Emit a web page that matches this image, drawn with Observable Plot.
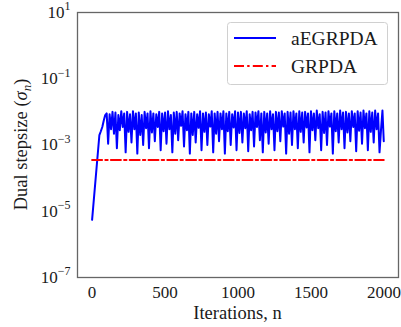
<!DOCTYPE html>
<html>
<head>
<meta charset="utf-8">
<script src="https://cdn.jsdelivr.net/npm/d3@7"></script>
<script src="https://cdn.jsdelivr.net/npm/@observablehq/plot@0.6"></script>
<style>
  html, body { margin: 0; padding: 0; background: white; }
  svg { display: block; }
</style>
</head>
<body>
<div id="chart"></div>
<script>
// ---- data ----
const xTicks = [0, 500, 1000, 1500, 2000];
const yTicks = [1e1, 1e-1, 1e-3, 1e-5, 1e-7];

// aEGRPDA: warm-up phase
const warmupN = [0, 50, 60, 70, 80, 90];
const warmupSigma = [5.5e-6, 2.0e-3, 2.6e-3, 3.5e-3, 5.5e-3, 8e-3];
// aEGRPDA: oscillating phase, n = 100, 110, ..., 1990 then final n = 1999
const oscSigma = [
  9e-3, 1.1e-3, 8.5e-3, 3e-3, 1.0e-2, 2.2e-3, 9.5e-3, 8e-4, 8e-3, 2.8e-3,
  1.05e-2, 3.5e-3, 9e-3, 6e-4, 1e-2, 2.5e-3, 8.5e-3, 1.2e-3, 1.05e-2, 3e-3,
  9e-3, 5.5e-4, 9.5e-3, 2e-3, 8e-3, 1e-3, 1e-2, 3.2e-3, 9e-3, 8e-4,
  1.05e-2, 2.4e-3, 9e-3, 1.3e-3, 8.5e-3, 3.5e-3, 1e-2, 7e-4, 9e-3, 2.6e-3,
  9.5e-3, 1.1e-3, 1.05e-2, 3e-3, 8e-3, 6e-4, 9.5e-3, 2.2e-3, 1e-2, 1.4e-3,
  9e-3, 3.8e-3, 1.05e-2, 9e-4, 8.5e-3, 2.8e-3, 1e-2, 5.5e-4, 9e-3, 2e-3,
  1e-2, 1.2e-3, 8.5e-3, 3.3e-3, 1.05e-2, 7e-4, 9e-3, 2.5e-3, 9.5e-3, 1e-3,
  8.5e-3, 3.6e-3, 1.05e-2, 6e-4, 9e-3, 2.2e-3, 1e-2, 1.3e-3, 9e-3, 3e-3,
  1.05e-2, 5.5e-4, 9e-3, 2.6e-3, 1e-2, 1e-3, 8.5e-3, 3.4e-3, 1.05e-2, 7e-4,
  9.5e-3, 2.3e-3, 1e-2, 1.2e-3, 9e-3, 3.2e-3, 1.05e-2, 6.5e-4, 8.5e-3, 2.8e-3,
  1e-2, 9e-4, 9.5e-3, 3.5e-3, 1.05e-2, 1.4e-3, 9e-3, 6e-4, 1e-2, 2.4e-3,
  9e-3, 1.1e-3, 1.05e-2, 3e-3, 8.5e-3, 7e-4, 1e-2, 2.6e-3, 9.5e-3, 1.3e-3,
  1.05e-2, 3.6e-3, 9e-3, 5.5e-4, 1e-2, 2.2e-3, 9.5e-3, 1e-3, 1.05e-2, 3e-3,
  9e-3, 8e-4, 1.05e-2, 2.5e-3, 9.5e-3, 1.2e-3, 1e-2, 3.4e-3, 9e-3, 6e-4,
  1.05e-2, 2.8e-3, 9e-3, 1.4e-3, 1.1e-2, 3.2e-3, 8.5e-3, 7e-4, 1e-2, 2.3e-3,
  9.5e-3, 1e-3, 1.05e-2, 3.6e-3, 9e-3, 5.5e-4, 1.05e-2, 2.6e-3, 9e-3, 1.2e-3,
  1.1e-2, 3e-3, 9.5e-3, 8e-4, 1e-2, 2.4e-3, 9e-3, 1.3e-3, 1.05e-2, 3.5e-3,
  9e-3, 6.5e-4, 1.05e-2, 2.7e-3, 9.5e-3, 1.1e-3, 1.1e-2, 3.2e-3, 9e-3, 7e-4,
  1.05e-2, 2.5e-3, 9.5e-3, 1.2e-3, 1.1e-2, 3e-3, 9e-3, 6e-4, 2.8e-3, 1.1e-2
];
const finalN = 1999;
const finalSigma = 1.3e-3;

// GRPDA: constant dual stepsize
const grpdaN = [0, 1999];
const grpdaSigma = [3.5e-4, 3.5e-4];

const seriesNames = ["aEGRPDA", "GRPDA"];
const seriesColors = ["#0000ff", "#ff0000"];

// ---- build tables ----
const oscN = d3.range(100, 2000, 10);
const aegrpda = [
  ...warmupN.map((n, i) => ({n, sigma: warmupSigma[i]})),
  ...oscN.map((n, i) => ({n, sigma: oscSigma[i]})),
  {n: finalN, sigma: finalSigma}
];
const grpda = grpdaN.map((n, i) => ({n, sigma: grpdaSigma[i]}));

const W = 401, H = 327;
const mL = 77, mR = 3, mT = 12, mB = 50;
const dashDot = "10,3.2,2.4,3.2";
const SERIF = "'Liberation Serif', 'Times New Roman', serif";
const INK = "#1a1a1a";

const chart = Plot.plot({
  width: W, height: H,
  marginLeft: mL, marginRight: mR, marginTop: mT, marginBottom: mB,
  style: {fontFamily: SERIF, fontSize: "17px", color: INK, background: "white"},
  x: {domain: [-100, 2100]},
  y: {type: "log", domain: [1e-7, 10]},
  marks: [
    Plot.axisX({ticks: xTicks, tickSize: 0, tickPadding: 8, tickFormat: d => String(d), label: null}),
    Plot.axisY({ticks: yTicks, tickSize: 0, tickPadding: 7, tickFormat: d => String(Math.round(Math.log10(d))), label: null}),
    Plot.line(aegrpda, {x: "n", y: "sigma", stroke: seriesColors[0], strokeWidth: 2, strokeLinejoin: "round"}),
    Plot.line(grpda, {x: "n", y: "sigma", stroke: seriesColors[1], strokeWidth: 2, strokeDasharray: dashDot}),
    Plot.frame({stroke: "#666", strokeWidth: 1.3})
  ]
});

const svg = d3.select(chart);

// superscript exponents on y tick labels
svg.selectAll('g[aria-label="y-axis tick label"] text').each(function() {
  const t = d3.select(this);
  const e = t.text();
  t.text(null);
  t.append("tspan").text("10");
  t.append("tspan").attr("dy", "-7.5").attr("font-size", "12px")
    .text(e.startsWith("-") ? "\u2212" + e.slice(1) : e);
});

function addText(parent) {
  return parent.append("text")
    .style("font-family", SERIF)
    .style("font-weight", "normal")
    .attr("fill", INK)
    .attr("stroke", "none");
}

// axis labels
addText(svg)
  .attr("x", mL + (W - mL - mR) / 2).attr("y", 319)
  .attr("text-anchor", "middle").style("font-size", "18.5px")
  .text("Iterations, n");

const yl = addText(svg)
  .attr("transform", `translate(27,${mT + (H - mT - mB) / 2}) rotate(-90)`)
  .attr("text-anchor", "middle").style("font-size", "18.5px");
yl.append("tspan").text("Dual stepsize (");
yl.append("tspan").attr("font-style", "italic").text("\u03c3");
yl.append("tspan").attr("font-style", "italic").attr("font-size", "13px").attr("dy", "4").text("n");
yl.append("tspan").attr("dy", "-4").text(")");

// legend
const lg = svg.append("g").attr("aria-label", "legend");
lg.append("rect").attr("x", 227.5).attr("y", 22.5).attr("width", 160).attr("height", 62)
  .attr("rx", 3).attr("fill", "white").attr("fill-opacity", 0.85).attr("stroke", "#d0d0d0");
seriesNames.forEach((name, i) => {
  const cy = 38 + i * 28;
  lg.append("line").attr("x1", 234).attr("x2", 276).attr("y1", cy).attr("y2", cy)
    .attr("stroke", seriesColors[i]).attr("stroke-width", 2)
    .attr("stroke-dasharray", i === 1 ? dashDot : null);
  addText(lg).attr("x", 291).attr("y", cy).attr("dy", "0.35em")
    .attr("text-anchor", "start")
    .style("font-size", "19.5px").text(name);
});

document.getElementById("chart").appendChild(chart);
</script>
</body>
</html>
